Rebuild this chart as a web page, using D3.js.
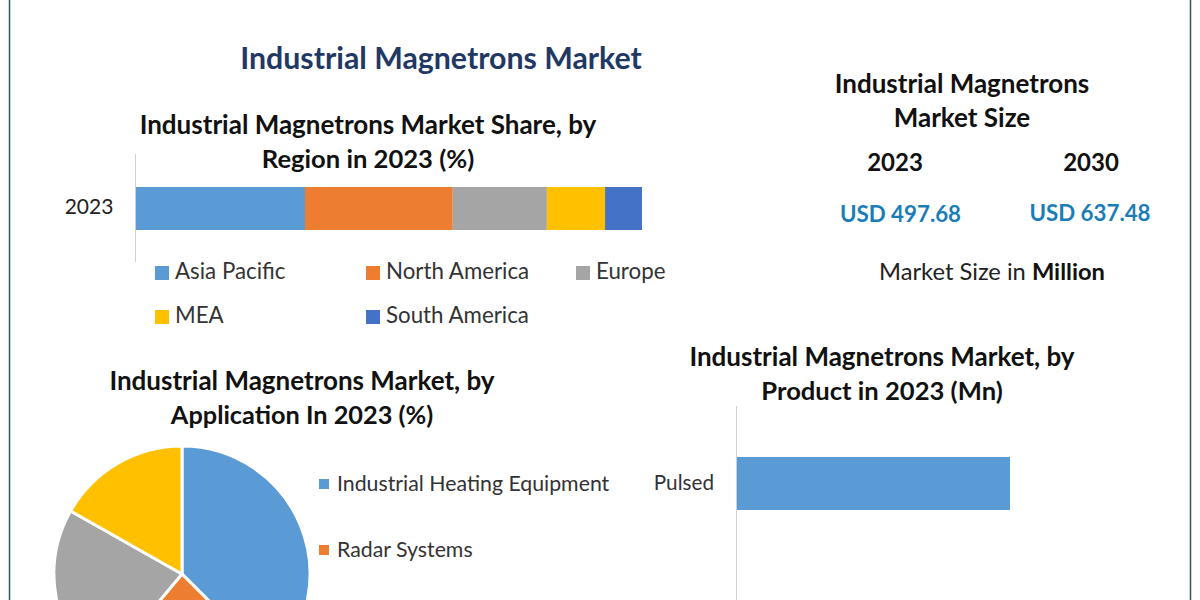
<!DOCTYPE html>
<html>
<head>
<meta charset="utf-8">
<script src="https://cdn.jsdelivr.net/npm/d3@7"></script>
<style>
  html, body { margin: 0; padding: 0; background: #fff; overflow: hidden; }
  text { font-family: Lato, "Open Sans", sans-serif; }
</style>
</head>
<body>
<div id="chart"></div>
<script>
// Market share by region in 2023 (%)
const regions = ["Asia Pacific", "North America", "Europe", "MEA", "South America"];
const regionShare = [33.4, 29.2, 18.6, 11.5, 7.3];
const regionColors = ["#5b9bd5", "#ed7d31", "#a5a5a5", "#ffc000", "#4472c4"];

// By application in 2023 (%), only the first two legend entries are visible
const applications = ["Industrial Heating Equipment", "Radar Systems"];
const applicationShare = [37.5, 23.6, 22.1, 16.8];
const applicationColors = ["#5b9bd5", "#ed7d31", "#a5a5a5", "#ffc000"];

// By product in 2023 (Mn)
const products = ["Pulsed"];
const productValues = [300];

const sizeYears = ["2023", "2030"];
const sizeValues = ["USD 497.68", "USD 637.48"];

const svg = d3.select("#chart").append("svg")
    .attr("width", 1200)
    .attr("height", 600);

svg.append("rect").attr("width", 1200).attr("height", 600).attr("fill", "#fff");

// Outer frame, only the sides are in the picture
svg.append("line").attr("x1", 9.5).attr("x2", 9.5).attr("y1", 0).attr("y2", 600)
    .attr("stroke", "#2f5566").attr("stroke-width", 1.5);
svg.append("line").attr("x1", 1190.5).attr("x2", 1190.5).attr("y1", 0).attr("y2", 600)
    .attr("stroke", "#2f5566").attr("stroke-width", 1.5);

function label(x, y, txt, size, weight, color, anchor) {
    return svg.append("text")
        .attr("x", x)
        .attr("y", y)
        .attr("font-size", size)
        .attr("font-weight", weight)
        .attr("fill", color)
        .attr("text-anchor", anchor || "middle")
        .text(txt);
}

// Titles
label(441, 69, "Industrial Magnetrons Market", 30.3, 700, "#1f3864");
label(368, 134, "Industrial Magnetrons Market Share, by", 26, 700, "#111");
label(368, 168, "Region in 2023 (%)", 25.6, 700, "#111");
label(302, 390, "Industrial Magnetrons Market, by", 26, 700, "#111");
label(302, 424, "Application In 2023 (%)", 25.3, 700, "#111");
label(882, 366, "Industrial Magnetrons Market, by", 26, 700, "#111");
label(882, 400, "Product in 2023 (Mn)", 25.6, 700, "#111");

// Market size block
label(962, 93, "Industrial Magnetrons", 26, 700, "#111");
label(962, 127, "Market Size", 26, 700, "#111");
const sizeX = d3.scalePoint().domain(sizeYears).range([895, 1091]);
sizeYears.forEach((yr, i) => {
    label(sizeX(yr), 171, yr, 24, 700, "#111");
    label(sizeX(yr) + (i === 0 ? 5.5 : -1), i === 0 ? 222 : 221, sizeValues[i], 22.3, 700, "#1b7db8");
});
const sizeNote = label(992, 280, "Market Size in ", 23.7, 400, "#222");
sizeNote.append("tspan").attr("font-weight", 700).attr("fill", "#111").text("Million");

// Stacked region bar
const shareX = d3.scaleLinear().domain([0, d3.sum(regionShare)]).range([136, 642]);
const stackStart = d3.cumsum([0].concat(regionShare));
svg.selectAll("rect.region")
    .data(regionShare)
    .enter()
    .append("rect")
    .attr("class", "region")
    .attr("x", (d, i) => shareX(stackStart[i]))
    .attr("width", d => shareX(d) - shareX(0))
    .attr("y", 187)
    .attr("height", 43)
    .attr("fill", (d, i) => regionColors[i]);
svg.append("line").attr("x1", 135.5).attr("x2", 135.5).attr("y1", 154).attr("y2", 262)
    .attr("stroke", "#d0d0d0");
label(89, 214, "2023", 21, 400, "#222");

// Region legend
const regionLegendX = [155, 366, 576, 155, 366];
const regionLegendY = [273, 273, 273, 317, 317];
regions.forEach((r, i) => {
    svg.append("rect")
        .attr("x", regionLegendX[i])
        .attr("y", regionLegendY[i] - 7)
        .attr("width", 14)
        .attr("height", 14)
        .attr("fill", regionColors[i]);
    label(regionLegendX[i] + 20, regionLegendY[i] + 6, r, 22.3, 400, "#333", "start");
});

// Application pie, runs off the bottom of the picture
const pie = d3.pie().sort(null)(applicationShare);
const arc = d3.arc().innerRadius(0).outerRadius(128);
svg.append("g")
    .attr("transform", "translate(182,574)")
    .selectAll("path")
    .data(pie)
    .enter()
    .append("path")
    .attr("d", arc)
    .attr("fill", (d, i) => applicationColors[i])
    .attr("stroke", "#fff")
    .attr("stroke-width", 3);

const appLegendY = [484, 550];
applications.forEach((a, i) => {
    svg.append("rect")
        .attr("x", 319)
        .attr("y", appLegendY[i] - 5)
        .attr("width", 10)
        .attr("height", 10)
        .attr("fill", applicationColors[i]);
    label(337, appLegendY[i] + 7, a, 21.3, 400, "#333", "start");
});

// Product bars
const productX = d3.scaleLinear().domain([0, 300]).range([737, 1010]);
const productY = d3.scaleBand().domain(products).range([406, 561]).padding(0.49);
svg.selectAll("rect.product")
    .data(productValues)
    .enter()
    .append("rect")
    .attr("class", "product")
    .attr("x", productX(0))
    .attr("y", (d, i) => productY(products[i]))
    .attr("width", d => productX(d) - productX(0))
    .attr("height", productY.bandwidth())
    .attr("fill", "#5b9bd5");
svg.append("line").attr("x1", 736.5).attr("x2", 736.5).attr("y1", 406).attr("y2", 600)
    .attr("stroke", "#d0d0d0");
products.forEach(p => {
    label(714, productY(p) + productY.bandwidth() / 2 + 6, p, 20.7, 400, "#333", "end");
});
</script>
</body>
</html>
